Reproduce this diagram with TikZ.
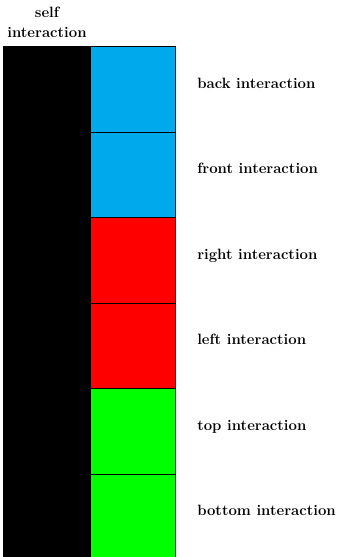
\documentclass[tikz,border=0pt]{standalone}
\definecolor{skyb}{RGB}{0,169,236}
\definecolor{redc}{RGB}{255,0,0}
\definecolor{greenc}{RGB}{0,255,0}
\begin{document}
\begin{tikzpicture}[x=0.75pt,y=-0.75pt,
  cell/.style={draw=black,line width=0.6pt},
  lbl/.style={font=\fontsize{11.2}{13}\bfseries,anchor=base west,inner sep=0pt},
  toplbl/.style={font=\fontsize{11.2}{13}\bfseries,align=center,inner sep=0pt}]
\useasboundingbox (0,0) rectangle (342,557);
\begin{scope}
\clip (0,0) rectangle (342,557);
\fill[black,draw=black,line width=0.6pt] (3.5,46.5) rectangle (90,570) coordinate (selfbr);
\foreach \i/\c/\t in {0/skyb/back,1/skyb/front,2/redc/right,3/redc/left,4/greenc/top,5/greenc/bottom}{
  \draw[cell,fill=\c] (90,46.5+85.5*\i) rectangle (175.5,132+85.5*\i);
  \node[lbl] (l\i) at (197,88.3+85.5*\i) {\t\ interaction};
}
\end{scope}
\node[toplbl,anchor=base] (s1) at (47,17.5) {self};
\node[toplbl,anchor=base] (s2) at (47,37.7) {interaction};
\end{tikzpicture}
\end{document}
